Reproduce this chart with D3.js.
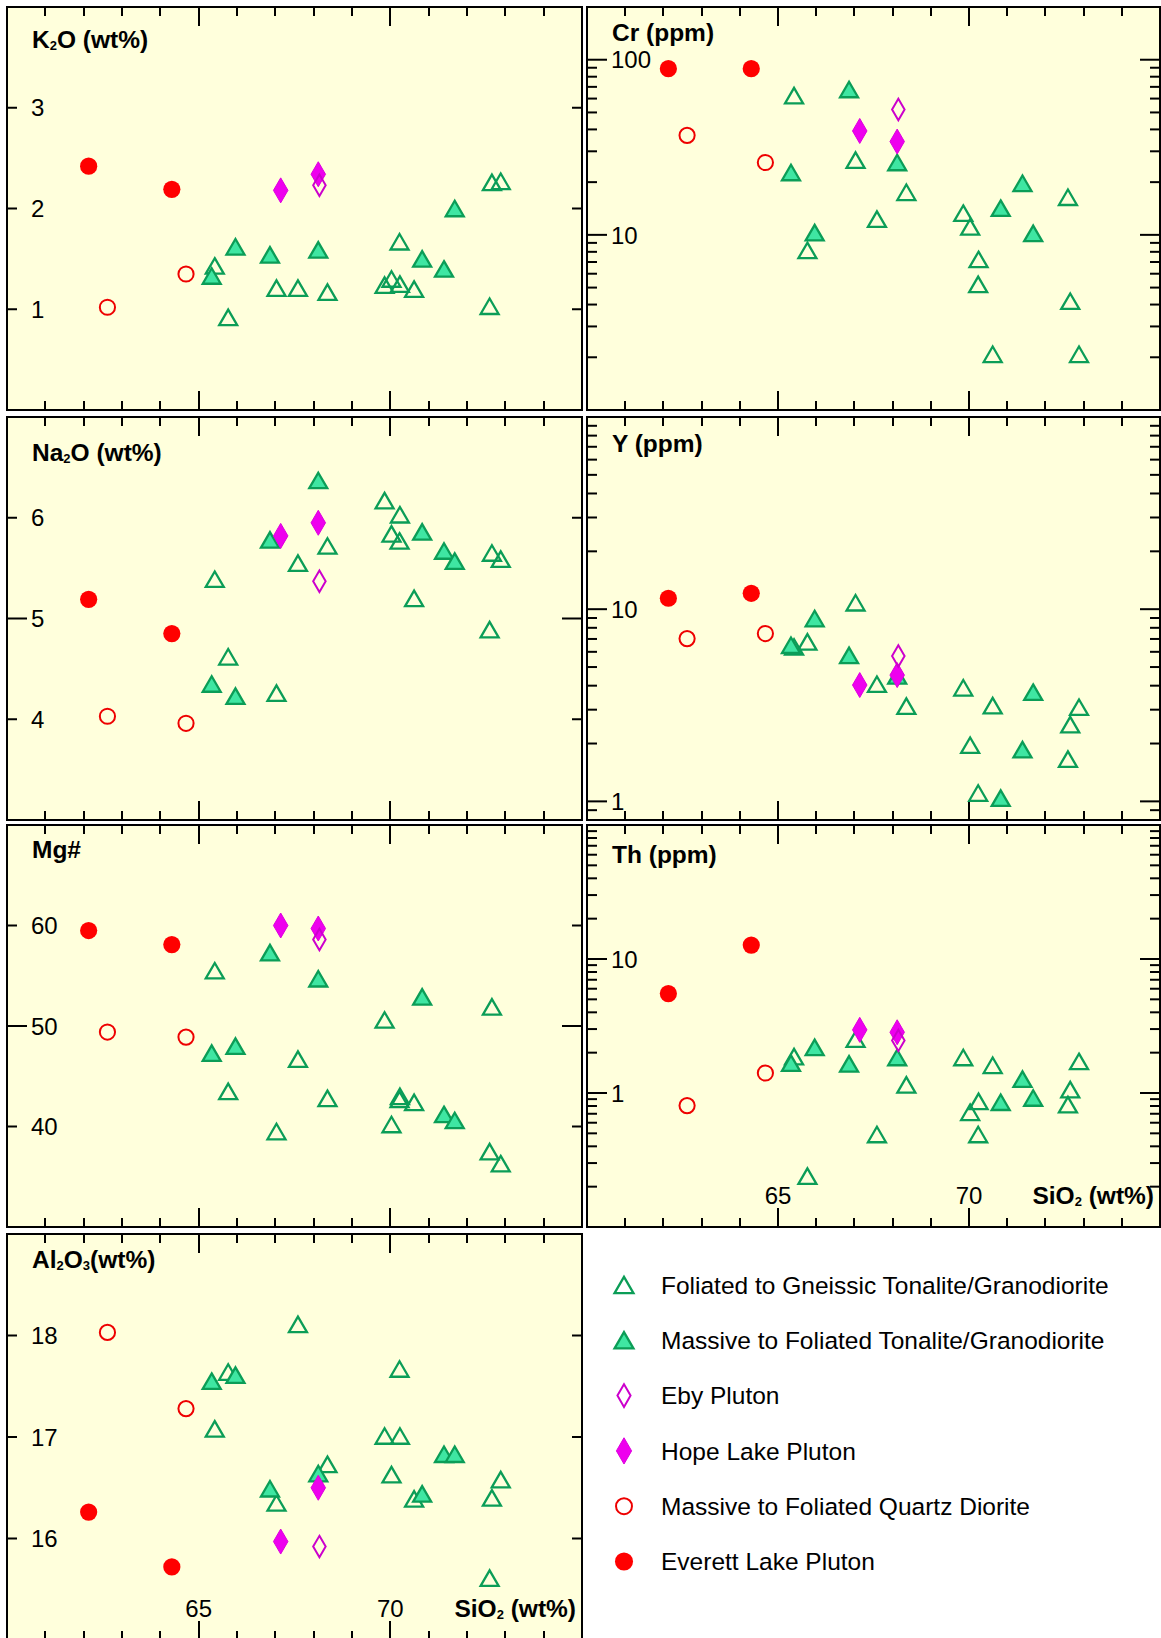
<!DOCTYPE html>
<html>
<head>
<meta charset="utf-8">
<script src="https://cdn.jsdelivr.net/npm/d3@7"></script>
<style>
  body { margin: 0; background: #fff; }
  svg { display: block; }
</style>
</head>
<body>
<script>
// ---- Sample SiO2 (wt%), one array per rock group ----
const foliatedSiO2 = [65.42, 65.77, 67.03, 67.59, 68.36, 69.85, 70.03, 70.25, 70.24, 70.62, 72.59, 72.65, 72.88];
const massiveSiO2  = [65.34, 65.96, 66.86, 68.12, 70.83, 71.40, 71.68];
const ebySiO2      = [68.15];
const hopeLakeSiO2 = [67.14, 68.12];
const dioriteSiO2  = [62.62, 64.67];
const everettSiO2  = [62.13, 64.30];

// ---- Element values, same sample order as the SiO2 arrays (null = no analysis) ----
const K2O = {
  foliated: [1.43, 0.92, 1.21, 1.21, 1.17, 1.24, 1.30, 1.25, 1.67, 1.20, 1.03, 2.26, 2.27],
  massive:  [1.33, 1.62, 1.54, 1.59, 1.50, 1.40, 2.00],
  eby:      [2.23],
  hopeLake: [2.18, 2.34],
  diorite:  [1.02, 1.35],
  everett:  [2.42, 2.19]
};
const Na2O = {
  foliated: [5.39, 4.62, 4.26, 5.55, 5.72, 6.17, 5.84, 6.03, 5.77, 5.20, 4.89, 5.65, 5.59],
  massive:  [4.35, 4.23, 5.78, 6.37, 5.86, 5.67, 5.57],
  eby:      [5.37],
  hopeLake: [5.82, 5.95],
  diorite:  [4.03, 3.96],
  everett:  [5.19, 4.85]
};
const MgNo = {
  foliated: [55.5, 43.5, 39.5, 46.7, 42.8, 50.6, 40.2, 43.0, 42.7, 42.4, 37.5, 51.9, 36.3],
  massive:  [47.3, 48.0, 57.3, 54.7, 52.9, 41.2, 40.6],
  eby:      [58.6],
  hopeLake: [60.0, 59.7],
  diorite:  [49.4, 48.9],
  everett:  [59.5, 58.1]
};
const Al2O3 = {
  foliated: [17.08, 17.64, 16.35, 18.11, 16.73, 17.01, 16.63, 17.01, 17.67, 16.39, 15.61, 16.40, 16.58],
  massive:  [17.55, 17.61, 16.49, 16.64, 16.44, 16.83, 16.83],
  eby:      [15.92],
  hopeLake: [15.97, 16.50],
  diorite:  [18.03, 17.28],
  everett:  [16.26, 15.72]
};
const Cr = {
  foliated: [62.4, 8.15, 26.7, 12.3, 17.5, 13.3, 11.1, 7.24, 5.22, 2.08, 16.4, 4.18, 2.08],
  massive:  [22.7, 10.3, 67.6, 25.9, 14.2, 19.7, 10.2],
  eby:      [52.0],
  hopeLake: [39.2, 34.1],
  diorite:  [37.0, 25.9],
  everett:  [88.9, 88.9]
};
const Y = {
  foliated: [6.36, 6.76, 10.8, 4.07, 3.13, 3.90, 1.96, null, 1.105, 3.15, 1.66, 2.51, 3.09],
  massive:  [6.49, 8.94, 5.75, 4.5, 1.04, 1.86, 3.7],
  eby:      [5.71],
  hopeLake: [4.03, 4.54],
  diorite:  [7.03, 7.47],
  everett:  [11.4, 12.1]
};
const Th = {
  foliated: [1.87, 0.24, 2.52, 0.49, 1.15, 1.84, 0.718, 0.867, 0.49, 1.61, 0.82, 1.06, 1.72],
  massive:  [1.67, 2.19, 1.65, 1.84, 0.853, 1.27, 0.918],
  eby:      [2.47],
  hopeLake: [2.96, 2.84],
  diorite:  [0.805, 1.41],
  everett:  [5.52, 12.7]
};

// ---- Axis tick values / labels ----
const sio2Domain = [60, 75];
const sio2Ticks = [61, 62, 63, 64, 65, 66, 67, 68, 69, 70, 71, 72, 73, 74];
const sio2Labels = [65, 70];

const legendLabels = [
  ["foliated", "Foliated to Gneissic Tonalite/Granodiorite"],
  ["massive",  "Massive to Foliated Tonalite/Granodiorite"],
  ["eby",      "Eby Pluton"],
  ["hopeLake", "Hope Lake Pluton"],
  ["diorite",  "Massive to Foliated Quartz Diorite"],
  ["everett",  "Everett Lake Pluton"]
];

const siO2ByGroup = {
  foliated: foliatedSiO2, massive: massiveSiO2, eby: ebySiO2,
  hopeLake: hopeLakeSiO2, diorite: dioriteSiO2, everett: everettSiO2
};

// ---- Layout ----
const W = 1161, H = 1638;
const COLS = [[7, 582], [587, 1160]];
const ROWS = [[7, 410], [417, 820], [825, 1227], [1234, 1640]];

const FONT = "'Liberation Sans', Arial, Helvetica, sans-serif";
const BG = "#ffffdc";
const TICK_FONT = 24;
const TITLE_FONT = 24.5;
const SUB_FONT = 13;

// Symbol styles, in drawing order
const groupStyle = {
  foliated: { shape: "tri", fill: "none",    stroke: "#0b9d57", sw: 2.3 },
  massive:  { shape: "tri", fill: "#3fe6a2", stroke: "#0b9d57", sw: 2.3 },
  hopeLake: { shape: "dia", fill: "#ee00ee", stroke: "#dd00dd", sw: 1 },
  eby:      { shape: "dia", fill: "none",    stroke: "#cc00cc", sw: 2 },
  diorite:  { shape: "circ", fill: "none",   stroke: "#ee0000", sw: 2 },
  everett:  { shape: "circ", fill: "#ff0000", stroke: "none",   sw: 0 }
};
const drawOrder = ["foliated", "massive", "hopeLake", "eby", "diorite", "everett"];

const panels = [
  { data: K2O,   col: 0, row: 0, log: false, domain: [0, 4],   ticks: [1, 2, 3], major: [], labels: [1, 2, 3],
    title: [["K"], ["2", 1], ["O (wt%)"]], titleY: 41 },
  { data: Na2O,  col: 0, row: 1, log: false, domain: [3, 7],   ticks: [4, 5, 6], major: [5], labels: [4, 5, 6],
    title: [["Na"], ["2", 1], ["O (wt%)"]], titleY: 44 },
  { data: MgNo,  col: 0, row: 2, log: false, domain: [30, 70], ticks: [40, 50, 60], major: [50], labels: [40, 50, 60],
    title: [["Mg#"]], titleY: 33 },
  { data: Al2O3, col: 0, row: 3, log: false, domain: [15, 19], ticks: [16, 17, 18], major: [], labels: [16, 17, 18],
    title: [["Al"], ["2", 1], ["O"], ["3", 1], ["(wt%)"]], titleY: 34, xLabels: true },
  { data: Cr,    col: 1, row: 0, log: true, domain: [1, 200],   labels: [10, 100],
    title: [["Cr (ppm)"]], titleY: 34 },
  { data: Y,     col: 1, row: 1, log: true, domain: [0.8, 100], labels: [1, 10],
    title: [["Y (ppm)"]], titleY: 35 },
  { data: Th,    col: 1, row: 2, log: true, domain: [0.1, 100], labels: [1, 10],
    title: [["Th (ppm)"]], titleY: 38, xLabels: true }
];

const svg = d3.select("body").append("svg")
  .attr("width", W).attr("height", H)
  .attr("viewBox", `0 0 ${W} ${H}`);

function markerPath(shape, w, h) {
  if (shape === "tri") return `M0,${-h / 2}L${w / 2},${h / 2}L${-w / 2},${h / 2}Z`;
  return `M0,${-h / 2}L${w / 2},0L0,${h / 2}L${-w / 2},0Z`;
}

function drawMarker(g, key, x, y, scale = 1) {
  const s = groupStyle[key];
  let el;
  if (s.shape === "circ") {
    el = g.append("circle").attr("cx", x).attr("cy", y)
      .attr("r", (s.fill === "none" ? 7.6 : 8.6) * scale);
  } else if (s.shape === "tri") {
    el = g.append("path").attr("transform", `translate(${x},${y})`)
      .attr("d", markerPath("tri", 18 * scale, 15.5 * scale))
      .attr("stroke-linejoin", "miter");
  } else {
    const open = s.fill === "none";
    el = g.append("path").attr("transform", `translate(${x},${y})`)
      .attr("d", markerPath("dia", (open ? 12.5 : 14.5) * scale, (open ? 21.5 : 25) * scale));
  }
  el.attr("fill", s.fill).attr("stroke", s.stroke).attr("stroke-width", s.sw);
}

// bold label with subscript digits, e.g. K2O, Al2O3
function addTitle(g, parts, x, y, size, anchor = "start") {
  const t = g.append("text").attr("x", x).attr("y", y)
    .attr("text-anchor", anchor)
    .attr("font-family", FONT).attr("font-weight", "bold")
    .attr("font-size", size).attr("fill", "#000");
  let shifted = false;
  parts.forEach(([txt, sub]) => {
    const ts = t.append("tspan").text(txt);
    if (sub) { ts.attr("font-size", SUB_FONT).attr("dy", shifted ? 0 : 2); shifted = true; }
    else { if (shifted) ts.attr("dy", -2); shifted = false; }
  });
}

panels.forEach(p => {
  const [x0, x1] = COLS[p.col];
  const [y0, y1] = ROWS[p.row];
  const g = svg.append("g");

  const x = d3.scaleLinear().domain(sio2Domain).range([x0, x1]);
  const y = (p.log ? d3.scaleLog() : d3.scaleLinear()).domain(p.domain).range([y1, y0]);

  // plot background
  g.append("rect").attr("x", x0).attr("y", y0)
    .attr("width", x1 - x0).attr("height", y1 - y0)
    .attr("fill", BG);

  const ticksG = g.append("g").attr("stroke", "#000").attr("stroke-width", 2);

  // SiO2 ticks, top and bottom, pointing inward
  sio2Ticks.forEach(v => {
    const len = (v % 5 === 0) ? 19 : 9;
    const xx = Math.round(x(v));
    ticksG.append("line").attr("x1", xx).attr("x2", xx).attr("y1", y0).attr("y2", y0 + len);
    ticksG.append("line").attr("x1", xx).attr("x2", xx).attr("y1", y1).attr("y2", y1 - len);
  });

  // vertical-axis ticks, left and right, pointing inward
  let yTicks = [];
  if (p.log) {
    const [d0, d1] = p.domain;
    for (let k = Math.floor(Math.log10(d0)); k <= Math.ceil(Math.log10(d1)); k++) {
      for (let m = 1; m <= 9; m++) {
        const v = m * Math.pow(10, k);
        if (v >= d0 * 0.999 && v <= d1 * 1.001) yTicks.push({ v, major: m === 1 });
      }
    }
  } else {
    yTicks = p.ticks.map(v => ({ v, major: p.major.includes(v) }));
  }
  yTicks.forEach(t => {
    const len = t.major ? 20 : 10;
    const yy = y(t.v);
    ticksG.append("line").attr("x1", x0).attr("x2", x0 + len).attr("y1", yy).attr("y2", yy);
    ticksG.append("line").attr("x1", x1).attr("x2", x1 - len).attr("y1", yy).attr("y2", yy);
  });

  // frame
  g.append("rect").attr("x", x0).attr("y", y0)
    .attr("width", x1 - x0).attr("height", y1 - y0)
    .attr("fill", "none").attr("stroke", "#000").attr("stroke-width", 2);

  // vertical-axis labels, inside the frame
  g.selectAll("text.ylab").data(p.labels).join("text")
    .attr("class", "ylab")
    .attr("x", x0 + 24).attr("y", d => y(d)).attr("dy", "0.36em")
    .attr("font-family", FONT).attr("font-size", TICK_FONT).attr("fill", "#000")
    .text(d => String(d));

  // SiO2 labels on the bottom panels
  if (p.xLabels) {
    g.selectAll("text.xlab").data(sio2Labels).join("text")
      .attr("class", "xlab")
      .attr("x", d => x(d)).attr("y", y1 - 23)
      .attr("text-anchor", "middle")
      .attr("font-family", FONT).attr("font-size", TICK_FONT).attr("fill", "#000")
      .text(d => String(d));
    addTitle(g, [["SiO"], ["2", 1], [" (wt%)"]], x1 - 6, y1 - 23, TITLE_FONT, "end");
  }

  // panel title
  addTitle(g, p.title, x0 + 25, y0 + p.titleY, TITLE_FONT);

  // data points
  const pts = g.append("g");
  drawOrder.forEach(key => {
    const xs = siO2ByGroup[key];
    const vs = p.data[key];
    xs.forEach((sx, i) => {
      const v = vs[i];
      if (v == null) return;
      drawMarker(pts, key, x(sx), y(v));
    });
  });
});

// ---- Legend ----
const legend = svg.append("g");
const legX = 624, legTextX = 661, legY0 = 1285, legStep = 55.3;
legendLabels.forEach(([key, label], i) => {
  const cy = legY0 + i * legStep;
  drawMarker(legend, key, legX, cy, 1.05);
  legend.append("text").attr("x", legTextX).attr("y", cy).attr("dy", "0.36em")
    .attr("font-family", FONT).attr("font-size", 24.5).attr("fill", "#000")
    .text(label);
});
</script>
</body>
</html>
